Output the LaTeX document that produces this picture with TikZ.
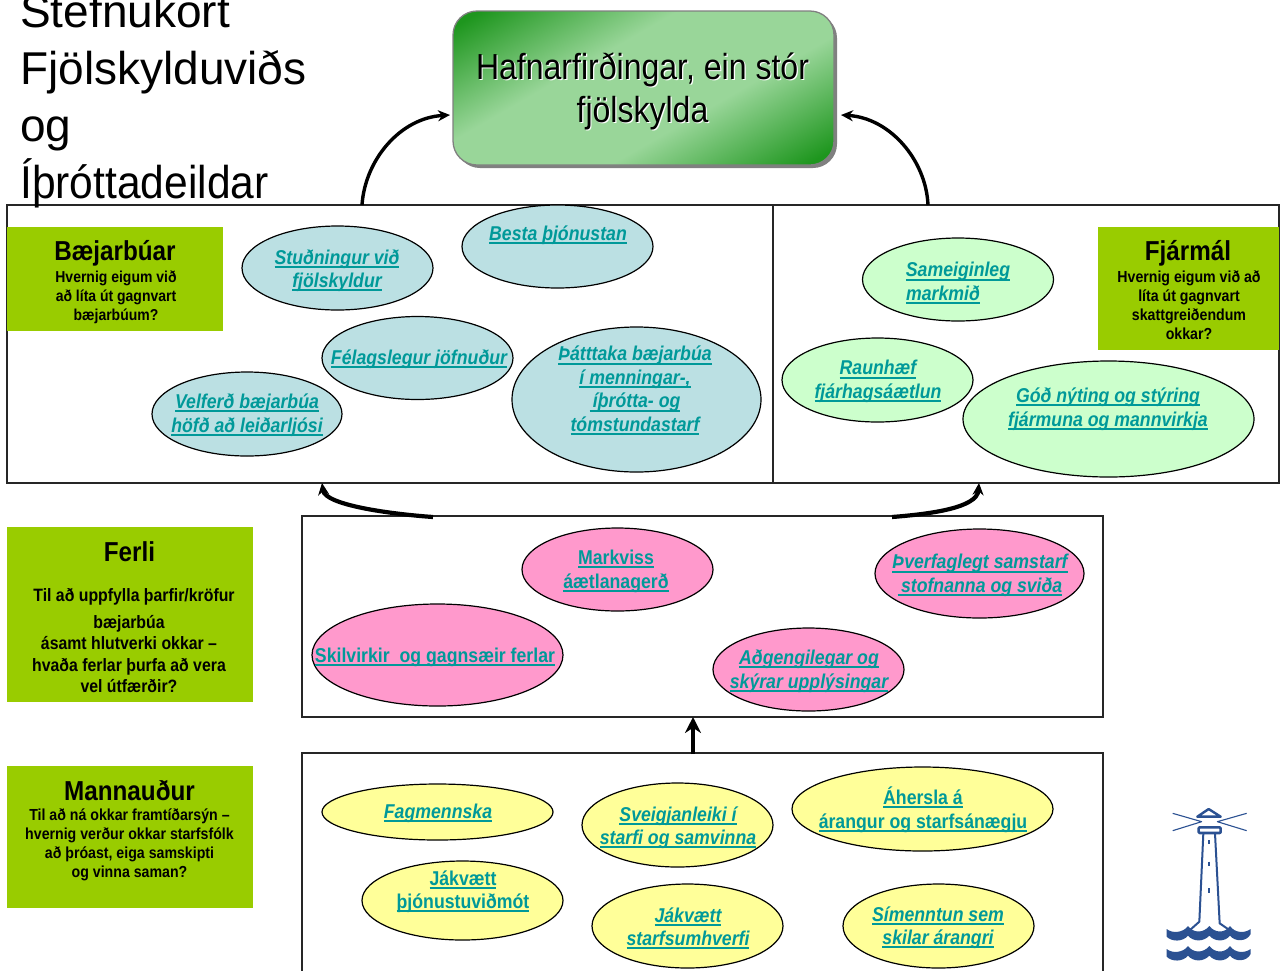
\documentclass[tikz,border=0pt]{standalone}
\usepackage{fontspec}
\setmainfont{Liberation Sans}
\newfontfamily\narrowf[FakeStretch=0.885]{Liberation Sans}
\usetikzlibrary{shapes.geometric,arrows.meta,calc}
\definecolor{linkc}{RGB}{0,153,153}
\definecolor{boxgreen}{RGB}{153,204,0}
\definecolor{ovblue}{RGB}{187,224,227}
\definecolor{ovgreen}{RGB}{204,255,204}
\definecolor{ovpink}{RGB}{255,153,204}
\definecolor{ovyellow}{RGB}{255,255,153}
\definecolor{gdark}{RGB}{30,150,30}
\definecolor{glight}{RGB}{153,214,153}
\definecolor{lhblue}{RGB}{43,81,146}
\pgfdeclareverticalshading{titleshade}{520bp}{color(0bp)=(gdark);color(14bp)=(gdark);color(112bp)=(glight);color(211bp)=(glight);color(309bp)=(gdark);color(323bp)=(gdark)}
\tikzset{
 pane/.style={draw=black!85,line width=1.1pt,fill=white,rectangle,inner sep=0pt,outer sep=0pt},
 infobox/.style={fill=boxgreen,rectangle,inner sep=0pt,outer sep=0pt},
 oval/.style={ellipse,draw=black,line width=1.2pt,inner sep=0pt,outer sep=0pt},
 linktext/.style={text=linkc,font=\narrowf\fontsize{20}{23.5}\selectfont\bfseries,align=center,inner sep=0pt,yshift=-1.5pt},
 flow/.style={line width=3.4pt,-{Stealth[length=12pt,width=11pt]}},
 headt/.style={font=\narrowf\fontsize{27.4}{30}\selectfont\bfseries,inner sep=0pt,align=center},
 bodyt/.style={font=\narrowf\fontsize{15.8}{19}\selectfont\bfseries,inner sep=0pt,align=center},
 lhline/.style={draw=lhblue,line cap=butt,line join=round},
}
\newsavebox{\lnkbox}
\newlength{\lnkwd}
\newcommand{\lnk}[1]{\leavevmode\sbox{\lnkbox}{#1}\setlength{\lnkwd}{\wd\lnkbox}\usebox{\lnkbox}\hspace*{-\lnkwd}\raisebox{-3.6pt}[0pt][0pt]{\rule{\lnkwd}{2pt}}}
\newcommand{\lnki}[1]{\lnk{\itshape #1}}
% name, cx, cy, w, h, fill, tx, ty, text
\newcommand{\ovalitem}[9]{%
 \node[oval,fill=#6,minimum width=#4pt,minimum height=#5pt] (#1) at (#2,#3) {};
 \node[linktext] (#1-t) at (#7,#8) {#9};}
\begin{document}
\begin{tikzpicture}[x=1pt,y=-1pt]
\useasboundingbox (0,0) rectangle (1284,970);
\clip (0,0) rectangle (1284,970);
\fill[white] (0,0) rectangle (1284,970);

% panes
\node[pane,minimum width=766pt,minimum height=278pt] (paneL) at (390,344) {};
\node[pane,minimum width=506pt,minimum height=278pt] (paneR) at (1026,344) {};
\node[pane,minimum width=801pt,minimum height=201pt] (paneM) at (702.5,616.5) {};
\node[pane,minimum width=801pt,minimum height=240pt] (paneB) at (702.5,873) {};

% title
\node[font=\fontsize{46}{57}\selectfont,align=left,anchor=north west,inner sep=0pt] (heading) at (20,-6) {Stefnukort\\Fjölskylduviðs\\og\\\scalebox{0.925}[1]{Íþróttadeildar}};

% goal box
\fill[black!50,rounded corners=24pt] (456,14) rectangle (837,168);
\begin{scope}
 \clip[rounded corners=24pt] (453,11) rectangle (834,165);
 \node[rectangle,inner sep=0pt,rotate=30] (goalfill) at (643.5,88) {\pgfuseshading{titleshade}};
\end{scope}
\node[rectangle,rounded corners=24pt,draw=black!50,line width=1.3pt,minimum width=381pt,minimum height=154pt,inner sep=0pt,outer sep=0pt] (goal) at (643.5,88) {};
\foreach \o/\c in {1.2/white,0/black}{
 \node[font=\fontsize{36.2}{43}\narrowf\selectfont,align=center,text=\c,inner sep=0pt] at ($(642.5,91.5)+(\o,\o)$) {Hafnarfirðingar, ein stór\\fjölskylda};
}

% info boxes
\node[infobox,minimum width=216pt,minimum height=104pt] (bbox) at (115,279) {};
\node[headt] (bh) at (115,253) {Bæjarbúar};
\node[bodyt] (bb) at (116,297) {Hvernig eigum við\\að líta út gagnvart\\bæjarbúum?};
\node[infobox,minimum width=181pt,minimum height=123pt] (fbox) at (1188.5,288.5) {};
\node[headt] (fh) at (1188,253) {Fjármál};
\node[bodyt,font=\narrowf\fontsize{16}{19}\selectfont\bfseries] (fb) at (1189,305.5) {Hvernig eigum við að\\líta út gagnvart\\skattgreiðendum\\okkar?};
\node[infobox,minimum width=246pt,minimum height=175pt] (pbox) at (130,614.5) {};
\node[headt] (ph) at (129.5,552) {Ferli};
\node[bodyt,font=\narrowf\fontsize{17.9}{22}\selectfont\bfseries] (pb1) at (134,597) {Til að uppfylla þarfir/kröfur};
\node[bodyt,font=\narrowf\fontsize{17.9}{21.5}\selectfont\bfseries] (pb2) at (129,654) {bæjarbúa\\ásamt hlutverki okkar –\\hvaða ferlar þurfa að vera\\vel útfærðir?};
\node[infobox,minimum width=246pt,minimum height=142pt] (mbox) at (130,837) {};
\node[headt] (mh) at (129.5,791) {Mannauður};
\node[bodyt,font=\narrowf\fontsize{16}{19}\selectfont\bfseries] (mb) at (129.5,844.5) {Til að ná okkar framtíðarsýn –\\hvernig verður okkar starfsfólk\\að þróast, eiga samskipti\\og vinna saman?};

% ovals
\ovalitem{o1}{337.5}{268}{191}{84}{ovblue}{337}{269}{\lnki{Stuðningur við}\\\lnki{fjölskyldur}}
\ovalitem{o2}{557.5}{246.5}{191}{83}{ovblue}{558}{234}{\lnki{Besta þjónustan}}
\ovalitem{o3}{417.5}{358}{191}{83}{ovblue}{419}{358}{\lnki{Félagslegur jöfnuður}}
\ovalitem{o4}{247}{414}{190}{84}{ovblue}{247}{413.5}{\lnki{Velferð bæjarbúa}\\\lnki{höfð að leiðarljósi}}
\ovalitem{o5}{636.5}{399.5}{249}{145}{ovblue}{635}{387.5}{\lnki{Þátttaka bæjarbúa}\\\lnki{í menningar-,}\\\lnki{\,íþrótta- og}\\\lnki{tómstundastarf}}
\ovalitem{o6}{958}{279.5}{191}{83}{ovgreen}{958}{280}{\lnki{Sameiginleg}\\\lnki{markmið}\hspace*{30pt}}
\ovalitem{o7}{877.5}{380}{191}{84}{ovgreen}{878}{380}{\lnki{Raunhæf}\\\lnki{fjárhagsáætlun}}
\ovalitem{o8}{1108.5}{419}{291}{116}{ovgreen}{1108}{407.5}{\lnki{Góð nýting og stýring}\\\lnki{fjármuna og mannvirkja}}
\ovalitem{o9}{617.5}{569.5}{191}{83}{ovpink}{616}{570}{\lnk{Markviss}\\\lnk{áætlanagerð}}
\ovalitem{o10}{979.5}{573.5}{209}{89}{ovpink}{980}{574}{\lnki{Þverfaglegt samstarf}\\\lnki{\,stofnanna og sviða}}
\ovalitem{o11}{437.5}{655}{251}{102}{ovpink}{435}{656}{\lnk{Skilvirkir~ og gagnsæir ferlar}}
\ovalitem{o12}{808.5}{669.5}{191}{83}{ovpink}{809}{669.5}{\lnki{Aðgengilegar og}\\\lnki{skýrar upplýsingar}}
\ovalitem{o13}{437.5}{812}{231}{56}{ovyellow}{438}{812}{\lnki{Fagmennska}}
\ovalitem{o14}{677.5}{825}{191}{84}{ovyellow}{678}{826}{\lnki{Sveigjanleiki í}\\\lnki{starfi og samvinna}}
\ovalitem{o15}{922.5}{809}{261}{84}{ovyellow}{923}{808}{\lnk{Áhersla á}\\\lnk{árangur og starfsánægju}}
\ovalitem{o16}{462.5}{900.5}{201}{79}{ovyellow}{463}{890}{\lnk{Jákvætt}\\\lnk{þjónustuviðmót}}
\ovalitem{o17}{687.5}{926}{191}{84}{ovyellow}{688}{925}{\lnki{Jákvætt}\\\lnki{starfsumhverfi}}
\ovalitem{o18}{938.5}{926}{191}{84}{ovyellow}{938}{926}{\lnki{Símenntun sem}\\\lnki{skilar árangri}}

% connectors
\coordinate (a1s) at (362,205);
\coordinate (a1e) at (450,115);
\coordinate (a2s) at (928,205);
\coordinate (a2e) at (841,115);
\coordinate (a3s) at (433,517);
\coordinate (a3e) at (322,483);
\coordinate (a4s) at (892,517);
\coordinate (a4e) at (979,483);
\coordinate (a5s) at (693,754);
\coordinate (a5e) at (693,717);
\draw[flow] (a1s) .. controls (365,160) and (400,118) .. (a1e);
\draw[flow] (a2s) .. controls (926,160) and (890,118) .. (a2e);
\draw[flow,line width=4.2pt] (a3s) .. controls (390,514) and (325,505) .. (a3e);
\draw[flow,line width=4.2pt] (a4s) .. controls (930,514) and (977,508) .. (a4e);
\draw[flow,line width=4.5pt,-{Stealth[length=16pt,width=16pt]}] (a5s) -- (a5e);

% lighthouse
\begin{scope}[shift={(1130,790)},x=0.3333pt,y=-0.3333pt]
 \draw[lhline,line width=2.4pt] (202,80) -- (236,57) -- (272,80) -- cycle;
 \draw[lhline,line width=1.1pt] (128,70) -- (215,95) -- (128,122);
 \draw[lhline,line width=1.1pt] (350,70) -- (262,95) -- (350,122);
 \draw[lhline,line width=2.6pt,rounded corners=1pt] (206,112) rectangle (272,129);
 \draw[lhline,line width=2pt] (220,130) -- (208,395) -- (180,420);
 \draw[lhline,line width=2pt] (255,130) -- (269,400) -- (298,420);
 \foreach \yy in {150,215,295}{\draw[lhline,line width=1.3pt] (237,\yy) -- (237,\yy+13);}
 \foreach \off in {0,60}{
  \fill[lhblue,shift={(0,\off)}] (110,417)
   .. controls (125,430) and (158,430) .. (174,408)
   .. controls (190,430) and (220,430) .. (238,408)
   .. controls (255,430) and (285,430) .. (300,408)
   .. controls (315,430) and (345,430) .. (362,417)
   -- (362,432)
   .. controls (350,456) and (315,456) .. (300,437)
   .. controls (285,456) and (255,456) .. (238,437)
   .. controls (220,456) and (190,456) .. (174,437)
   .. controls (158,456) and (125,456) .. (110,440) -- cycle;
 }
\end{scope}
\end{tikzpicture}
\end{document}
